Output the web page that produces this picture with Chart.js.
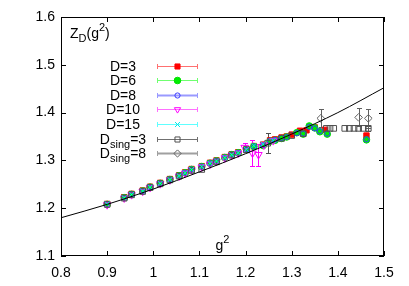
<!DOCTYPE html>
<html><head><meta charset="utf-8">
<script src="https://cdn.jsdelivr.net/npm/chart.js@4/dist/chart.umd.min.js"></script>
<style>html,body{margin:0;padding:0;background:#fff;}#c{display:block;}</style>
</head><body>
<canvas id="c" width="409" height="286"></canvas>
<script>
// ---- tick labels ----
const xTicks = [0.8, 0.9, 1.0, 1.1, 1.2, 1.3, 1.4, 1.5];
const xTickLabels = ['0.8', '0.9', '1', '1.1', '1.2', '1.3', '1.4', '1.5'];
const yTicks = [1.1, 1.2, 1.3, 1.4, 1.5, 1.6];
const yTickLabels = ['1.1', '1.2', '1.3', '1.4', '1.5', '1.6'];

// ---- series ----
const d3X = [0.900,0.937,0.953,0.977,0.993,1.015,1.036,1.056,1.069,1.083,1.105,1.123,1.137,1.155,1.170,1.184,1.202,1.218,1.238,1.253,1.264,1.278,1.289,1.300,1.318,1.332,1.350,1.372,1.462];
const d3Y = [1.209,1.223,1.230,1.237,1.245,1.253,1.261,1.269,1.275,1.282,1.288,1.295,1.300,1.307,1.313,1.317,1.324,1.330,1.333,1.342,1.344,1.348,1.350,1.354,1.362,1.363,1.369,1.364,1.352];

const d6X = [0.900,0.937,0.953,0.977,0.993,1.015,1.036,1.056,1.069,1.083,1.105,1.123,1.137,1.155,1.170,1.184,1.202,1.218,1.238,1.253,1.264,1.278,1.289,1.311,1.325,1.338,1.350,1.361,1.377,1.462];
const d6Y = [1.208,1.222,1.229,1.236,1.244,1.252,1.260,1.268,1.274,1.281,1.287,1.294,1.299,1.306,1.312,1.316,1.323,1.329,1.331,1.340,1.342,1.346,1.349,1.358,1.355,1.372,1.368,1.360,1.355,1.343];

const d8X = [0.900,0.937,0.953,0.977,0.993,1.015,1.036,1.056,1.069,1.083,1.105,1.123,1.137,1.155,1.170,1.184,1.202,1.218,1.238,1.253,1.264,1.278,1.289,1.311,1.325,1.338,1.350,1.361,1.377,1.462];
const d8Y = [1.208,1.222,1.229,1.236,1.244,1.252,1.260,1.268,1.274,1.281,1.287,1.294,1.299,1.306,1.312,1.316,1.323,1.329,1.332,1.341,1.343,1.347,1.349,1.357,1.356,1.370,1.367,1.361,1.356,1.344];

const d10X = [0.900,0.937,0.953,0.977,0.993,1.015,1.036,1.056,1.069,1.083,1.105,1.123,1.137,1.155,1.170,1.184,1.198,1.215,1.228,1.240,1.260];
const d10Y = [1.207,1.221,1.228,1.235,1.243,1.251,1.259,1.267,1.273,1.280,1.286,1.292,1.298,1.305,1.311,1.315,1.327,1.315,1.312,1.332,1.341];
const d10Err = [0,0,0,0,0,0,0,0,0,0,0,0,0,0,0,0,0.009,0.027,0.023,0,0];

const d15X = [0.900,0.937,0.953,0.977,0.993,1.015,1.036,1.056,1.069,1.083,1.105,1.123,1.137,1.155,1.170,1.184,1.202,1.218,1.238,1.260];
const d15Y = [1.209,1.222,1.229,1.236,1.244,1.252,1.260,1.268,1.274,1.281,1.287,1.294,1.299,1.306,1.312,1.316,1.323,1.331,1.334,1.342];
const d15Err = [0,0,0,0,0,0,0,0,0,0,0,0,0,0,0,0,0,0.006,0,0];

const ds3X = [0.900,0.937,0.953,0.977,0.993,1.015,1.036,1.056,1.083,1.105,1.137,1.170,1.202,1.248,1.278,1.300,1.325,1.375,1.383,1.391,1.415,1.425,1.435,1.445,1.455,1.466];
const ds3Y = [1.208,1.221,1.228,1.235,1.243,1.251,1.259,1.267,1.279,1.281,1.297,1.311,1.322,1.336,1.346,1.352,1.356,1.367,1.367,1.367,1.367,1.367,1.367,1.367,1.367,1.367];
const ds3Err = [0,0,0,0,0,0,0,0,0,0,0,0,0,0.021,0,0,0,0,0,0,0,0,0,0,0,0.005];

const ds8X = [1.363, 1.445, 1.466];
const ds8Y = [1.388, 1.390, 1.388];
const ds8Err = [0.019, 0.019, 0.020];

// reference curve
const fitX = [0.8, 0.9, 1.0, 1.1, 1.2, 1.3, 1.4, 1.5];
const fitY = [1.180, 1.208, 1.240, 1.276, 1.314, 1.355, 1.400, 1.452];

const seriesNames = ['D=3', 'D=6', 'D=8', 'D=10', 'D=15', 'D_sing=3', 'D_sing=8'];

function pts(xs, ys) { return xs.map((x, i) => ({ x: x, y: ys[i] })); }

const FONT = '"Liberation Sans", Arial, Helvetica, sans-serif';

const series = [
  { name: seriesNames[0], data: pts(d3X, d3Y), errs: null, color: '#ff0000', line: '#ff7070', lw: 1,
    pointStyle: 'rect', radius: 3.8, fill: '#ff0000', order: 8 },
  { name: seriesNames[1], data: pts(d6X, d6Y), errs: null, color: '#00e000', line: '#70ff70', lw: 1,
    pointStyle: 'circle', radius: 3.3, fill: '#00ee00', order: 7 },
  { name: seriesNames[2], data: pts(d8X, d8Y), errs: null, color: '#3a3aff', line: '#9a9aff', lw: 2,
    pointStyle: 'circle', radius: 2.6, fill: 'rgba(0,0,0,0)', order: 6 },
  { name: seriesNames[3], data: pts(d10X, d10Y), errs: d10Err, color: '#ff00ff', line: '#ff70ff', lw: 1,
    pointStyle: 'triangle', rotation: 180, radius: 4.3, fill: 'rgba(0,0,0,0)', order: 5 },
  { name: seriesNames[4], data: pts(d15X, d15Y), errs: d15Err, color: '#00e8e8', line: '#60ffff', lw: 1,
    pointStyle: 'crossRot', radius: 3.5, fill: 'rgba(0,0,0,0)', order: 3 },
  { name: seriesNames[5], data: pts(ds3X, ds3Y), errs: ds3Err, color: '#505050', line: '#707070', lw: 1,
    pointStyle: 'rect', radius: 4, fill: 'rgba(0,0,0,0)', order: 4 },
  { name: seriesNames[6], data: pts(ds8X, ds8Y), errs: ds8Err, color: '#606060', line: '#a0a0a0', lw: 2,
    pointStyle: 'rectRot', radius: 3.8, fill: 'rgba(255,255,255,0.0)', order: 2 },
];

const datasets = series.map(s => ({
  label: s.name,
  data: s.data,
  errs: s.errs,
  errColor: s.color,
  showLine: false,
  pointStyle: s.pointStyle,
  rotation: s.rotation || 0,
  pointRadius: s.radius,
  pointBorderWidth: 1,
  pointBorderColor: s.color,
  pointBackgroundColor: s.fill,
  borderColor: s.color,
  backgroundColor: s.fill,
  order: s.order
}));
datasets.push({
  label: 'fit',
  data: pts(fitX, fitY),
  showLine: true,
  pointRadius: 0,
  borderColor: '#000',
  borderWidth: 1,
  cubicInterpolationMode: 'monotone',
  order: 1
});

const errPlugin = {
  id: 'errbars',
  beforeDatasetsDraw(chart) {
    const ctx = chart.ctx, xs = chart.scales.x, ys = chart.scales.y;
    chart.data.datasets.forEach(ds => {
      if (!ds.errs) return;
      ctx.save();
      ctx.strokeStyle = ds.errColor;
      ctx.lineWidth = 1;
      ds.data.forEach((p, i) => {
        const e = ds.errs[i];
        if (!e) return;
        const px = Math.round(xs.getPixelForValue(p.x)) + 0.5;
        const y1 = Math.round(ys.getPixelForValue(p.y + e)) + 0.5;
        const y2 = Math.round(ys.getPixelForValue(p.y - e)) + 0.5;
        ctx.beginPath();
        ctx.moveTo(px, y1); ctx.lineTo(px, y2);
        ctx.moveTo(px - 2.5, y1); ctx.lineTo(px + 2.5, y1);
        ctx.moveTo(px - 2.5, y2); ctx.lineTo(px + 2.5, y2);
        ctx.stroke();
      });
      ctx.restore();
    });
  }
};

function drawMarker(ctx, s, x, y) {
  ctx.save();
  ctx.strokeStyle = s.color;
  ctx.fillStyle = s.fill;
  ctx.lineWidth = 1;
  Chart.helpers.drawPoint(ctx, { pointStyle: s.pointStyle, rotation: s.rotation || 0, radius: Math.min(s.radius, 3.6), borderWidth: 1 }, x, y);
  ctx.restore();
}

function drawRich(ctx, parts, x, baseline, align) {
  const widths = parts.map(p => { ctx.font = (p[1] === 'n' ? '14px ' : '11px ') + FONT; return ctx.measureText(p[0]).width; });
  const total = widths.reduce((a, b) => a + b, 0);
  let cx = align === 'center' ? x - total / 2 : x;
  ctx.textAlign = 'left';
  ctx.textBaseline = 'alphabetic';
  parts.forEach((p, i) => {
    ctx.font = (p[1] === 'n' ? '14px ' : '11px ') + FONT;
    const dy = p[1] === 'sub' ? 4 : (p[1] === 'sup' ? -7 : 0);
    ctx.fillText(p[0], cx, baseline + dy);
    cx += widths[i];
  });
}

const framePlugin = {
  id: 'frame',
  afterDraw(chart) {
    const ctx = chart.ctx, a = chart.chartArea, xs = chart.scales.x, ys = chart.scales.y;
    ctx.save();
    ctx.strokeStyle = '#000';
    ctx.lineWidth = 1;
    ctx.strokeRect(a.left + 0.5, a.top + 0.5, a.right - a.left - 1, a.bottom - a.top - 1);
    ctx.beginPath();
    const TL = 5;
    xTicks.forEach(v => {
      const px = Math.round(xs.getPixelForValue(v)) + 0.5;
      ctx.moveTo(px, a.bottom); ctx.lineTo(px, a.bottom - TL);
      ctx.moveTo(px, a.top); ctx.lineTo(px, a.top + TL);
    });
    yTicks.forEach(v => {
      const py = Math.round(ys.getPixelForValue(v)) + 0.5;
      ctx.moveTo(a.left, py); ctx.lineTo(a.left + TL, py);
      ctx.moveTo(a.right, py); ctx.lineTo(a.right - TL, py);
    });
    ctx.stroke();

    ctx.fillStyle = '#000';
    drawRich(ctx, [['Z', 'n'], ['D', 'sub'], ['(g', 'n'], ['2', 'sup'], [')', 'n']], a.left + 9, a.top + 21, 'left');
    drawRich(ctx, [['g', 'n'], ['2', 'sup']], (a.left + a.right) / 2, a.bottom - 6, 'center');

    const rowY0 = 65.5, rowStep = 14.6;
    series.forEach((s, i) => {
      const cy = rowY0 + i * rowStep;
      ctx.fillStyle = '#000';
      let parts;
      if (s.name.indexOf('_sing') >= 0) {
        parts = [['D', 'n'], ['sing', 'sub'], [s.name.split('_sing')[1], 'n']];
      } else {
        parts = [[s.name, 'n']];
      }
      drawRich(ctx, parts, 123, cy + 5, 'center');
      const x1 = 157, x2 = 198, yy = Math.round(cy) + 0.5;
      ctx.strokeStyle = s.line;
      ctx.lineWidth = s.lw;
      ctx.beginPath();
      ctx.moveTo(x1, yy); ctx.lineTo(x2, yy);
      ctx.stroke();
      ctx.lineWidth = 1;
      ctx.beginPath();
      ctx.moveTo(x1 + 0.5, yy - 2.5); ctx.lineTo(x1 + 0.5, yy + 2.5);
      ctx.moveTo(x2 - 0.5, yy - 2.5); ctx.lineTo(x2 - 0.5, yy + 2.5);
      ctx.stroke();
      drawMarker(ctx, s, (x1 + x2) / 2, yy);
    });
    ctx.restore();
  }
};

new Chart(document.getElementById('c'), {
  type: 'scatter',
  data: { datasets: datasets },
  options: {
    responsive: false,
    animation: false,
    devicePixelRatio: 1,
    layout: { padding: { top: 17, right: 25, left: 0, bottom: 0 } },
    plugins: { legend: { display: false }, tooltip: { enabled: false }, title: { display: false } },
    scales: {
      x: {
        type: 'linear', min: 0.8, max: 1.5,
        grid: { display: false, drawTicks: false },
        border: { display: false },
        afterBuildTicks: s => { s.ticks = xTicks.map(v => ({ value: v })); },
        afterFit: s => { s.height = 30; },
        ticks: {
          padding: 9, color: '#000', font: { family: FONT, size: 14 }, maxRotation: 0, autoSkip: false,
          callback: (v, i) => xTickLabels[i]
        }
      },
      y: {
        type: 'linear', min: 1.1, max: 1.6,
        grid: { display: false, drawTicks: false },
        border: { display: false },
        afterBuildTicks: s => { s.ticks = yTicks.map(v => ({ value: v })); },
        afterFit: s => { s.width = 61; },
        ticks: {
          padding: 6, color: '#000', font: { family: FONT, size: 14 }, autoSkip: false,
          callback: (v, i) => yTickLabels[i]
        }
      }
    }
  },
  plugins: [errPlugin, framePlugin]
});
</script>
</body></html>
